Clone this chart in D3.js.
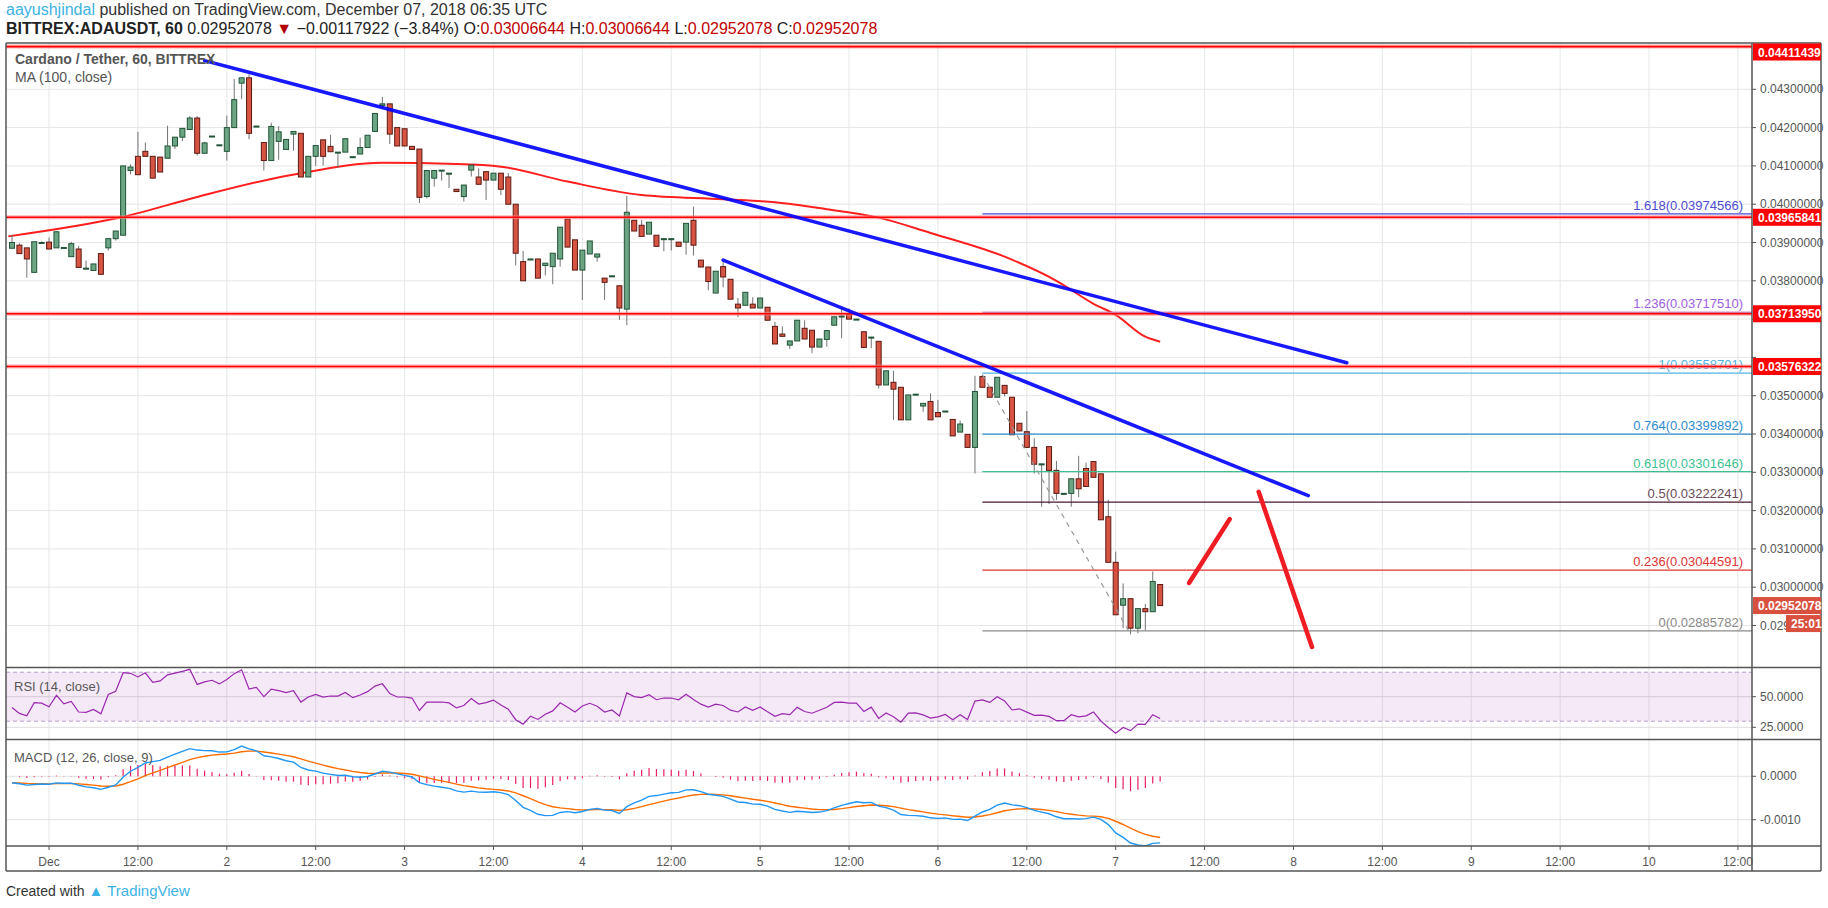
<!DOCTYPE html>
<html>
<head>
<meta charset="utf-8">
<script src="https://cdnjs.cloudflare.com/ajax/libs/d3/7.8.5/d3.min.js"></script>
<style>
  body { margin: 0; background: #fff; }
  svg text { font-family: "Liberation Sans", Arial, sans-serif; }
  .narrow { font-family: "Liberation Sans Narrow", "Liberation Sans", sans-serif !important; }
</style>
</head>
<body>
<svg id="chart" width="1828" height="908"></svg>
<script>
// hourly candles [open, high, low, close], first one at Nov 30 19:00 (hour -5 from Dec 1 00:00)
var firstHour = -5;
var candles = [
  [.03885,.03920,.03885,.03900],[.03893,.03898,.03870,.03871],[.03886,.03886,.03808,.03857],[.03822,.03902,.03822,.03902],
  [.03900,.03903,.03898,.03900],[.03901,.03913,.03883,.03883],[.03886,.03930,.03886,.03928],[.03887,.03887,.03887,.03887],
  [.03863,.03902,.03863,.03897],[.03883,.03891,.03835,.03835],[.03833,.03853,.03833,.03833],[.03827,.03844,.03827,.03844],
  [.03871,.03871,.03817,.03817],[.03886,.03910,.03879,.03910],[.03910,.03930,.03905,.03930],[.03919,.04100,.03919,.04100],
  [.04088,.04104,.04078,.04097],[.04125,.04189,.04077,.04077],[.04138,.04161,.04125,.04125],[.04125,.04125,.04068,.04068],
  [.04123,.04123,.04084,.04084],[.04120,.04205,.04120,.04152],[.04152,.04175,.04144,.04175],[.04175,.04198,.04165,.04198],
  [.04195,.04230,.04195,.04225],[.04225,.04230,.04127,.04133],[.04133,.04163,.04133,.04160],[.04178,.04178,.04178,.04178],
  [.04155,.04155,.04155,.04155],[.04138,.04231,.04114,.04200],[.04200,.04327,.04200,.04273],[.04316,.04330,.04274,.04330],
  [.04330,.04339,.04170,.04185],[.04204,.04204,.04204,.04204],[.04161,.04161,.04088,.04114],[.04114,.04213,.04114,.04203],
  [.04164,.04204,.04116,.04189],[.04143,.04169,.04143,.04169],[.04183,.04190,.04140,.04190],[.04185,.04185,.04071,.04071],
  [.04071,.04125,.04071,.04125],[.04125,.04153,.04100,.04153],[.04168,.04168,.04101,.04125],[.04151,.04181,.04137,.04137],
  [.04136,.04136,.04095,.04136],[.04136,.04171,.04136,.04171],[.04124,.04124,.04124,.04124],[.04131,.04174,.04131,.04148],
  [.04148,.04180,.04148,.04180],[.04190,.04237,.04190,.04237],[.04258,.04280,.04250,.04262],[.04262,.04262,.04157,.04183],
  [.04200,.04200,.04152,.04152],[.04197,.04197,.04152,.04152],[.04151,.04151,.04143,.04143],
  [.04144,.04144,.04003,.04018],[.04020,.04088,.04015,.04088],[.04068,.04088,.04046,.04088],[.04089,.04089,.04062,.04089],
  [.04081,.04081,.04042,.04081],[.04039,.04039,.04033,.04033],[.04020,.04050,.04007,.04050],[.04089,.04102,.04072,.04102],
  [.04071,.04094,.04052,.04052],[.04085,.04085,.04011,.04063],[.04063,.04081,.04063,.04081],[.04081,.04081,.04024,.04039],
  [.04071,.04081,.04000,.04000],[.04000,.04000,.03840,.03872],[.03850,.03878,.03800,.03800],[.03857,.03857,.03857,.03857],
  [.03857,.03857,.03807,.03807],[.03840,.03846,.03814,.03846],[.03837,.03872,.03791,.03872],[.03857,.03940,.03837,.03940],
  [.03961,.03961,.03888,.03888],[.03907,.03907,.03828,.03828],[.03828,.03880,.03750,.03880],[.03870,.03904,.03870,.03904],
  [.03862,.03870,.03850,.03870],[.03807,.03807,.03750,.03796],[.03813,.03813,.03813,.03813],[.03787,.03787,.03698,.03729],
  [.03726,.04022,.03684,.03979],[.03958,.03958,.03930,.03930],[.03945,.03959,.03916,.03916],[.03922,.03953,.03922,.03953],
  [.03919,.03919,.03890,.03890],[.03910,.03910,.03877,.03910],[.03910,.03910,.03879,.03910],[.03901,.03901,.03890,.03890],
  [.03901,.03950,.03868,.03950],[.03958,.03994,.03866,.03893],[.03854,.03854,.03836,.03836],[.03836,.03836,.03775,.03798],
  [.03768,.03825,.03768,.03825],[.03837,.03850,.03783,.03810],[.03804,.03804,.03752,.03752],[.03739,.03755,.03705,.03729],
  [.03736,.03770,.03736,.03770],[.03739,.03757,.03729,.03729],[.03729,.03755,.03729,.03755],[.03731,.03731,.03697,.03697],
  [.03681,.03693,.03635,.03635],[.03661,.03681,.03655,.03655],[.03632,.03643,.03622,.03643],[.03643,.03697,.03643,.03697],
  [.03676,.03697,.03648,.03648],[.03671,.03671,.03611,.03627],[.03627,.03648,.03627,.03648],
  [.03647,.03670,.03628,.03670],[.03684,.03706,.03684,.03706],[.03708,.03728,.03650,.03708],[.03713,.03728,.03700,.03700],
  [.03700,.03700,.03700,.03700],[.03667,.03667,.03626,.03626],[.03653,.03653,.03624,.03653],[.03642,.03642,.03519,.03528],
  [.03528,.03565,.03528,.03565],[.03535,.03565,.03437,.03517],[.03522,.03522,.03437,.03437],[.03437,.03502,.03437,.03502],
  [.03504,.03504,.03504,.03504],[.03473,.03480,.03458,.03480],[.03485,.03506,.03437,.03437],[.03456,.03489,.03445,.03445],
  [.03460,.03460,.03460,.03460],[.03438,.03438,.03395,.03395],[.03405,.03435,.03405,.03426],[.03399,.03399,.03365,.03365],
  [.03365,.03552,.03297,.03511],[.03550,.03555,.03522,.03522],[.03522,.03522,.03496,.03496],[.03496,.03548,.03496,.03548],
  [.03527,.03527,.03498,.03506],[.03496,.03496,.03398,.03398],[.03428,.03428,.03408,.03408],[.03406,.03460,.03365,.03365],
  [.03365,.03389,.03297,.03321],[.03322,.03322,.03210,.03322],[.03367,.03367,.03217,.03305],[.03305,.03330,.03228,.03245],
  [.03245,.03245,.03245,.03245],[.03245,.03283,.03210,.03283],[.03283,.03343,.03235,.03257],[.03310,.03325,.03263,.03263],
  [.03328,.03328,.03287,.03287],[.03296,.03296,.03176,.03176],[.03184,.03228,.03065,.03065],[.03065,.03093,.02928,.02928],
  [.02953,.03010,.02893,.02970],[.02970,.02970,.02877,.02893],[.02893,.02944,.02880,.02944],[.02944,.02956,.02887,.02936],
  [.02936,.03041,.02936,.03015],[.03007,.03007,.02952,.02952]
];
// MA(100): [hour, value]
var maPoints = [[-5.5,.03916],[10,.03967],[20,.04019],[30,.04066],[34,.04081],[45,.04108],[55,.04105],[61,.04098],
  [70,.04059],[80,.04024],[91,.04013],[98,.04005],[105,.03987],[112,.03965],[119,.03925],[129,.03863],[136,.03800],
  [141,.03740],[144,.03711],[148,.03654],[150,.03641]];
var hLevels = [0.04411439, 0.03965841, 0.03713950, 0.03576322];
var trendLines = [[[21, .04375], [175.2, .03586]], [[91, .03854], [170, .03239]]];
var arrows = [[[153.9, .03011], [159.4, .03178]], [[163.3, .03249], [170.5, .02844]]];
var fibStart = 126;
var fibLabels = ["1.618", "1.236", "1", "0.764", "0.618", "0.5", "0.236", "0"];
var fibValues = [0.03974566, 0.03717510, 0.03558701, 0.03399892, 0.03301646, 0.03222241, 0.03044591, 0.02885782];
var fibColors = ["#4b4bd6", "#a05ee0", "#4fb3e3", "#2f8bd0", "#3dbf92", "#4a1434", "#e03434", "#8a8a8a"];
var fibTextColors = ["#4b4bd6", "#a05ee0", "#4fb3e3", "#2f8bd0", "#3dbf92", "#6b4a58", "#e03434", "#8a8a8a"];
var dashLine = [[126, .03555], [146, .02877]];
var priceTicks = [0.043, 0.042, 0.041, 0.040, 0.039, 0.038, 0.037, 0.036, 0.035, 0.034, 0.033, 0.032, 0.031, 0.030, 0.029];
var hiddenTicks = [0.037, 0.036]; // covered by level labels
var timeLabels = ["Dec","12:00","2","12:00","3","12:00","4","12:00","5","12:00","6","12:00","7","12:00","8","12:00","9","12:00","10","12:00"];
var lastPrice = 0.02952078;

var svg = d3.select("#chart");
var L = 6, R = 1752, W = 1821;
var x = d3.scaleLinear().domain([-5.5, 229.9]).range([8.3, R]);
var y = d3.scaleLinear().domain([0.029, 0.043]).range([625.5, 89.3]);
var yR = d3.scaleLinear().domain([25, 50]).range([727.3, 696.7]);
var yM = d3.scaleLinear().domain([-0.001, 0]).range([819.7, 776.3]);
var panes = [[44, 667], [668, 739], [740, 846]];

var defs = svg.append("defs");
panes.forEach(function(p, i) {
  defs.append("clipPath").attr("id", "clip" + i).append("rect")
    .attr("x", L).attr("y", p[0]).attr("width", R - L).attr("height", p[1] - p[0]);
});

// grid
var grid = svg.append("g");
timeLabels.forEach(function(t, i) {
  grid.append("line").attr("x1", x(i * 12)).attr("x2", x(i * 12)).attr("y1", 44).attr("y2", 846)
    .attr("stroke", "#e6e6e6");
});
priceTicks.forEach(function(p) {
  grid.append("line").attr("x1", L).attr("x2", R).attr("y1", y(p)).attr("y2", y(p)).attr("stroke", "#e6e6e6");
});
[50, 25].forEach(function(v) {
  grid.append("line").attr("x1", L).attr("x2", R).attr("y1", yR(v)).attr("y2", yR(v)).attr("stroke", "#dcdcdc");
});
[0, -0.001].forEach(function(v) {
  grid.append("line").attr("x1", L).attr("x2", R).attr("y1", yM(v)).attr("y2", yM(v)).attr("stroke", "#e3e3e3");
});

// main pane
var main = svg.append("g").attr("clip-path", "url(#clip0)");
main.append("path").datum(maPoints)
  .attr("d", d3.line().x(function(d){return x(d[0]);}).y(function(d){return y(d[1]);}).curve(d3.curveMonotoneX))
  .attr("fill", "none").attr("stroke", "#ff1f1f").attr("stroke-width", 2);

candles.forEach(function(c, i) {
  var h = firstHour + i, cx = x(h), up = c[3] >= c[0];
  main.append("line").attr("x1", cx).attr("x2", cx).attr("y1", y(c[1])).attr("y2", y(c[2]))
    .attr("stroke", "#737375");
  var top = y(Math.max(c[0], c[3])), bot = y(Math.min(c[0], c[3]));
  main.append("rect").attr("x", cx - 2.5).attr("width", 5).attr("y", top).attr("height", Math.max(bot - top, 1))
    .attr("fill", up ? "#6ba583" : "#d75442").attr("stroke", up ? "#225437" : "#5b1a13").attr("stroke-width", 1);
});

// fib
fibValues.forEach(function(v, i) {
  main.append("line").attr("x1", x(fibStart)).attr("x2", R).attr("y1", y(v)).attr("y2", y(v))
    .attr("stroke", fibColors[i]).attr("stroke-width", 1.2);
  main.append("text").attr("x", 1743).attr("y", y(v) - 4).attr("text-anchor", "end")
    .attr("font-size", 13).attr("fill", fibTextColors[i])
    .text(fibLabels[i] + "(" + v.toFixed(8) + ")");
});
main.append("line").attr("x1", x(dashLine[0][0])).attr("y1", y(dashLine[0][1]))
  .attr("x2", x(dashLine[1][0])).attr("y2", y(dashLine[1][1]))
  .attr("stroke", "#999").attr("stroke-width", 1.2).attr("stroke-dasharray", "5,5");

// horizontal levels
hLevels.forEach(function(v) {
  main.append("line").attr("x1", L).attr("x2", R).attr("y1", y(v)).attr("y2", y(v))
    .attr("stroke", "#ff8080").attr("stroke-width", 4).attr("opacity", 0.6);
  main.append("line").attr("x1", L).attr("x2", R).attr("y1", y(v)).attr("y2", y(v))
    .attr("stroke", "#ff0000").attr("stroke-width", 1.6);
});

trendLines.forEach(function(t) {
  main.append("line").attr("x1", x(t[0][0])).attr("y1", y(t[0][1])).attr("x2", x(t[1][0])).attr("y2", y(t[1][1]))
    .attr("stroke", "#0000ff").attr("stroke-width", 3.5).attr("stroke-linecap", "round").attr("opacity", 0.9);
});
arrows.forEach(function(t) {
  main.append("line").attr("x1", x(t[0][0])).attr("y1", y(t[0][1])).attr("x2", x(t[1][0])).attr("y2", y(t[1][1]))
    .attr("stroke", "#f01c24").attr("stroke-width", 4.5).attr("stroke-linecap", "round");
});

main.append("text").attr("x", 15).attr("y", 64).attr("font-size", 14).attr("fill", "#555").attr("font-weight", "bold")
  .attr("class", "narrow").text("Cardano / Tether, 60, BITTREX");
main.append("text").attr("x", 15).attr("y", 82).attr("font-size", 14).attr("fill", "#555")
  .attr("class", "narrow").text("MA (100, close)");

// indicators computed from closes
var closes = candles.map(function(c){ return c[3]; });
var rsi = [], ag = 0.00007, al = 0.0001;
closes.forEach(function(c, i) {
  if (i > 0) {
    var ch = c - closes[i - 1];
    ag = (ag * 13 + Math.max(ch, 0)) / 14;
    al = (al * 13 + Math.max(-ch, 0)) / 14;
  }
  rsi.push(100 - 100 / (1 + ag / al));
});
function ema(arr, n) {
  var k = 2 / (n + 1), out = [], prev = arr[0];
  arr.forEach(function(v) { prev = v * k + prev * (1 - k); out.push(prev); });
  return out;
}
var e12 = ema(closes, 12), e26 = ema(closes, 26);
var macd = closes.map(function(c, i){ return e12[i] - e26[i] - 0.00015; });
var signal = ema(macd, 9);

var rp = svg.append("g").attr("clip-path", "url(#clip1)");
rp.append("rect").attr("x", L).attr("width", R - L).attr("y", yR(70)).attr("height", yR(30) - yR(70))
  .attr("fill", "#9c27b0").attr("opacity", 0.1);
[70, 30].forEach(function(v) {
  rp.append("line").attr("x1", L).attr("x2", R).attr("y1", yR(v)).attr("y2", yR(v))
    .attr("stroke", "#b79ccb").attr("stroke-dasharray", "4,3");
});
rp.append("path").datum(rsi)
  .attr("d", d3.line().x(function(d, i){ return x(firstHour + i); }).y(function(d){ return yR(d); }))
  .attr("fill", "none").attr("stroke", "#9c27b0").attr("stroke-width", 1.2);
rp.append("text").attr("x", 14).attr("y", 691).attr("font-size", 13).attr("fill", "#555").attr("class", "narrow")
  .text("RSI (14, close)");

var mp = svg.append("g").attr("clip-path", "url(#clip2)");
macd.forEach(function(m, i) {
  var hv = m - signal[i];
  mp.append("line").attr("x1", x(firstHour + i)).attr("x2", x(firstHour + i))
    .attr("y1", yM(0)).attr("y2", yM(hv)).attr("stroke", "#e91e63").attr("stroke-width", 1.2);
});
mp.append("path").datum(signal)
  .attr("d", d3.line().x(function(d, i){ return x(firstHour + i); }).y(function(d){ return yM(d); }))
  .attr("fill", "none").attr("stroke", "#ff6d00").attr("stroke-width", 1.4);
mp.append("path").datum(macd)
  .attr("d", d3.line().x(function(d, i){ return x(firstHour + i); }).y(function(d){ return yM(d); }))
  .attr("fill", "none").attr("stroke", "#2196f3").attr("stroke-width", 1.4);
mp.append("text").attr("x", 14).attr("y", 762).attr("font-size", 13).attr("fill", "#555").attr("class", "narrow")
  .text("MACD (12, 26, close, 9)");

// frames
var fr = svg.append("g").attr("stroke", "#555").attr("stroke-width", 1.5);
[43, 667.5, 739.5, 846, 871].forEach(function(v) {
  fr.append("line").attr("x1", L).attr("x2", W).attr("y1", v).attr("y2", v);
});
fr.append("line").attr("x1", L).attr("x2", L).attr("y1", 43).attr("y2", 871);
fr.append("line").attr("x1", W).attr("x2", W).attr("y1", 43).attr("y2", 871);
fr.append("line").attr("x1", R).attr("x2", R).attr("y1", 43).attr("y2", 871);

// right axes
var ax = svg.append("g");
function tickLabel(yy, txt) {
  ax.append("line").attr("x1", R).attr("x2", R + 4).attr("y1", yy).attr("y2", yy).attr("stroke", "#555");
  if (txt) ax.append("text").attr("x", R + 8).attr("y", yy + 4).attr("font-size", 12).attr("fill", "#555").text(txt);
}
priceTicks.forEach(function(p) {
  var txt = hiddenTicks.indexOf(p) >= 0 ? null : (p === 0.029 ? "0.029" : p.toFixed(8));
  tickLabel(y(p), txt);
});
tickLabel(yR(50), "50.0000");
tickLabel(yR(25), "25.0000");
tickLabel(yM(0), "0.0000");
tickLabel(yM(-0.001), "-0.0010");
function boxLabel(yy, txt, col, x0, w) {
  ax.append("rect").attr("x", x0).attr("y", yy - 8.5).attr("width", w).attr("height", 17).attr("fill", col);
  ax.append("text").attr("x", x0 + 5).attr("y", yy + 4.5).attr("font-size", 12).attr("font-weight", "bold")
    .attr("fill", "#fff").text(txt);
}
hLevels.forEach(function(v) { boxLabel(Math.max(y(v), 52), v.toFixed(8), "#ff0000", R + 1, 68); });
boxLabel(y(lastPrice), lastPrice.toFixed(8), "#d9503f", R + 1, 68);
boxLabel(y(lastPrice) + 18, "25:01", "#d9503f", 1786, 35);

// time axis
timeLabels.forEach(function(t, i) {
  ax.append("line").attr("x1", x(i * 12)).attr("x2", x(i * 12)).attr("y1", 846).attr("y2", 850).attr("stroke", "#555");
  ax.append("text").attr("x", x(i * 12)).attr("y", 866).attr("text-anchor", "middle").attr("font-size", 12)
    .attr("fill", "#555").text(t);
});

// header
var h1 = svg.append("text").attr("x", 6).attr("y", 15).attr("font-size", 16).attr("class", "narrow");
h1.append("tspan").attr("fill", "#3bb3e4").text("aayushjindal");
h1.append("tspan").attr("fill", "#333").text(" published on TradingView.com, December 07, 2018 06:35 UTC");
var h2 = svg.append("text").attr("x", 6).attr("y", 34).attr("font-size", 16).attr("class", "narrow");
h2.append("tspan").attr("fill", "#222").attr("font-weight", "bold").text("BITTREX:ADAUSDT, 60 ");
h2.append("tspan").attr("fill", "#222").text("0.02952078 ");
h2.append("tspan").attr("fill", "#b00000").text("▼ ");
h2.append("tspan").attr("fill", "#222").text("−0.00117922 (−3.84%) O:");
h2.append("tspan").attr("fill", "#c00000").text("0.03006644");
h2.append("tspan").attr("fill", "#222").text(" H:");
h2.append("tspan").attr("fill", "#c00000").text("0.03006644");
h2.append("tspan").attr("fill", "#222").text(" L:");
h2.append("tspan").attr("fill", "#c00000").text("0.02952078");
h2.append("tspan").attr("fill", "#222").text(" C:");
h2.append("tspan").attr("fill", "#c00000").text("0.02952078");

// footer
var ft = svg.append("text").attr("x", 6).attr("y", 896).attr("font-size", 14).attr("class", "narrow");
ft.append("tspan").attr("fill", "#333").text("Created with ");
ft.append("tspan").attr("fill", "#3bb3e4").attr("font-size", 15).text("▲ TradingView");
</script>
</body>
</html>
